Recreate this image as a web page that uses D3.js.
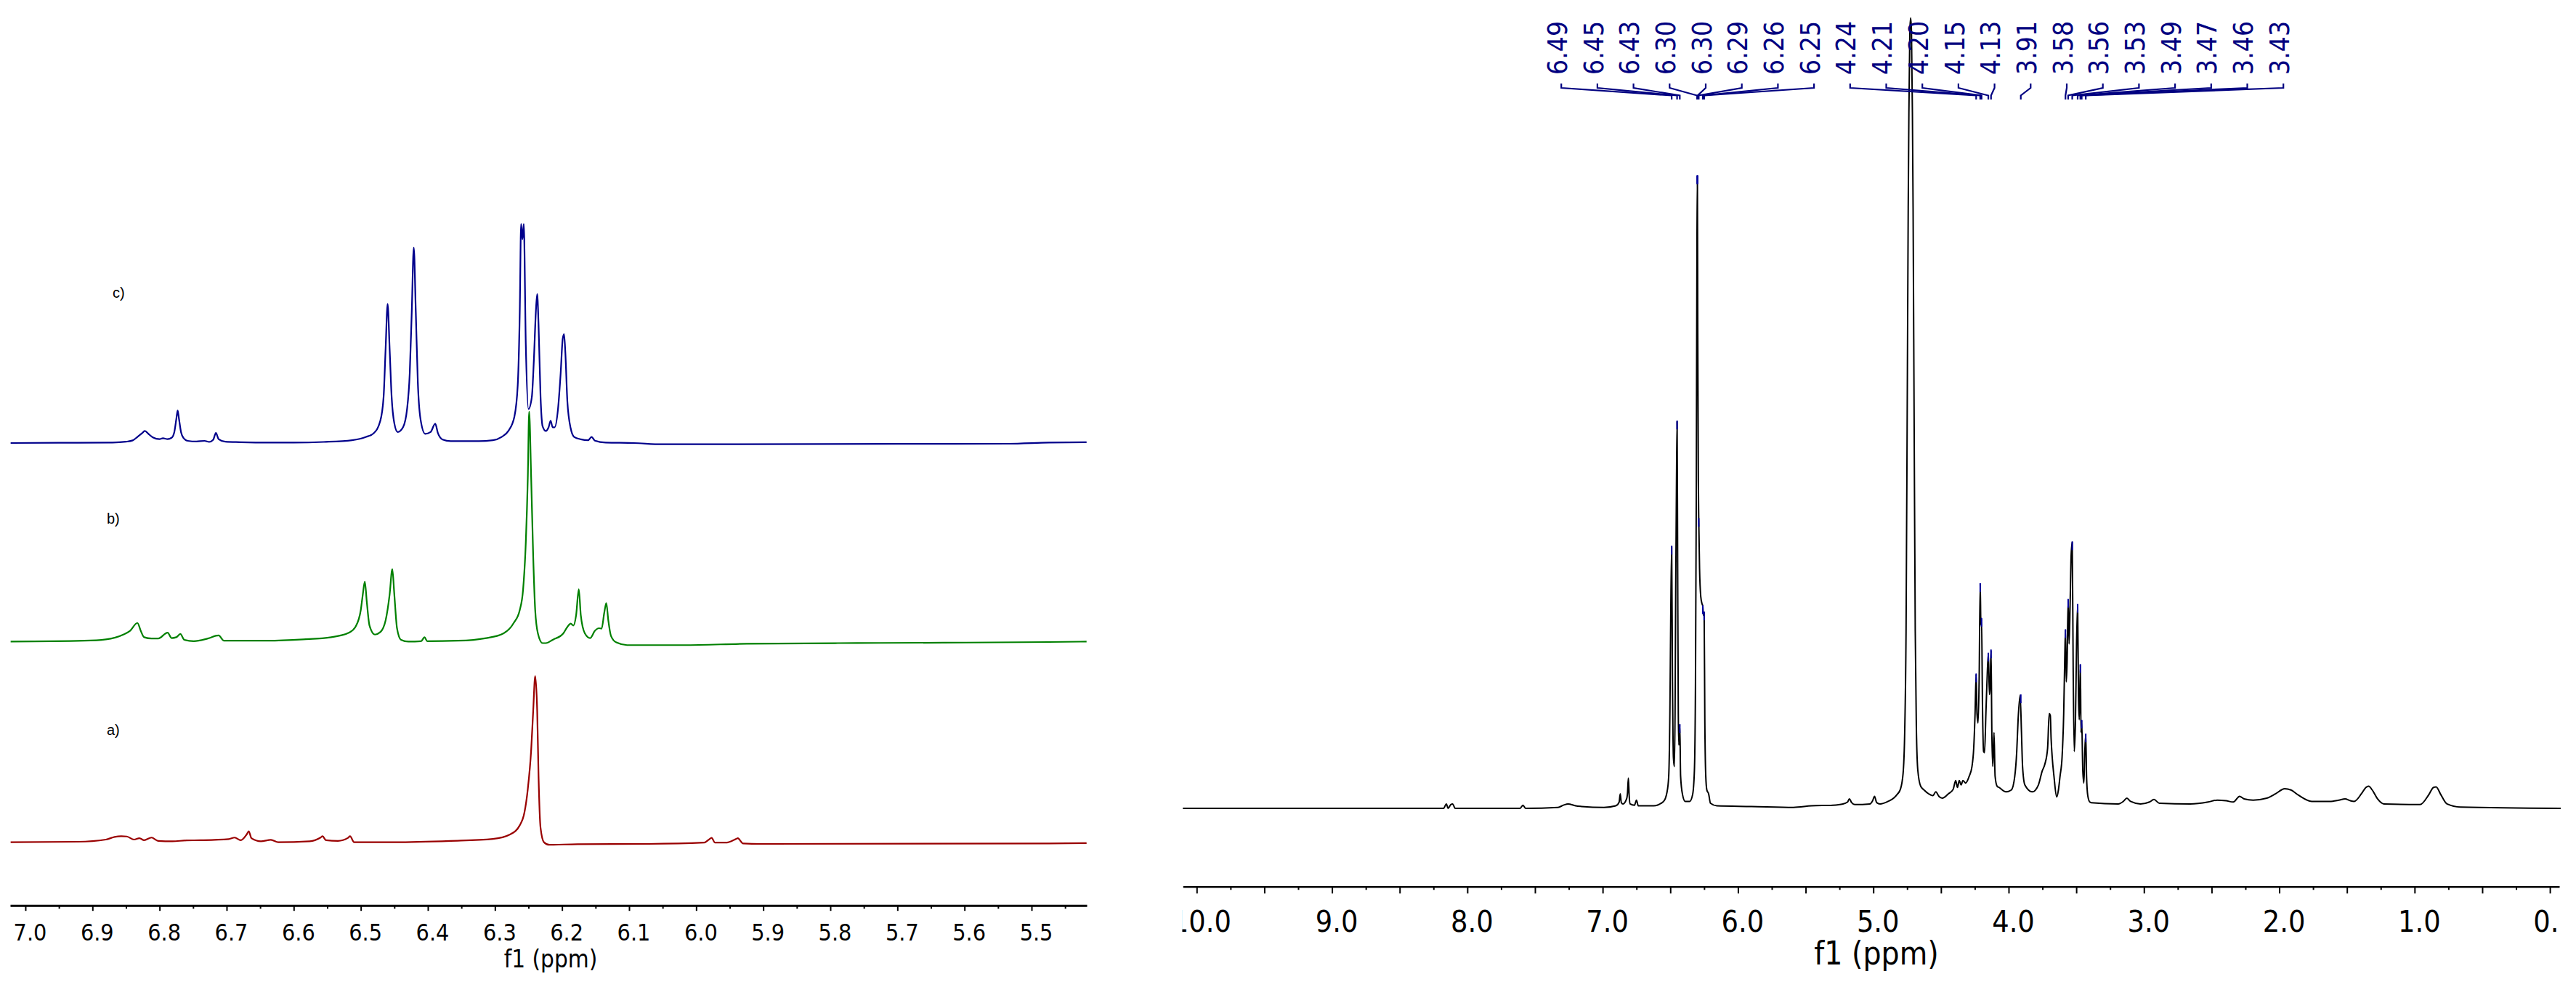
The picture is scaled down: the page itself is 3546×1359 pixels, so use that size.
<!DOCTYPE html>
<html><head><meta charset="utf-8">
<script src="https://cdn.jsdelivr.net/npm/d3@7"></script>
<style>html,body{margin:0;padding:0;background:#fff;} svg{display:block;}</style>
</head><body>
<svg id="chart" width="3546" height="1359"></svg>
<script>
// ---------------- DATA ----------------
const leftTickValues = [7.0, 6.9, 6.8, 6.7, 6.6, 6.5, 6.4, 6.3, 6.2, 6.1, 6.0, 5.9, 5.8, 5.7, 5.6, 5.5];
const leftTickLabels = ["7.0","6.9","6.8","6.7","6.6","6.5","6.4","6.3","6.2","6.1","6.0","5.9","5.8","5.7","5.6","5.5"];
const rightTickValues = [10, 9, 8, 7, 6, 5, 4, 3, 2, 1, 0];
const rightTickLabels = ["10.0","9.0","8.0","7.0","6.0","5.0","4.0","3.0","2.0","1.0","0.0"];
const axisTitle = "f1 (ppm)";
const traceNames = ["c)", "b)", "a)"];

// spectrum c) (blue) : [ppm, intensity]
const traceC = [[7.022,0],[6.950,0.1],[6.870,0.2],[6.850,0.6],[6.840,1.2],[6.833,2.8],[6.826,4.5],[6.822,5.5],[6.816,4.0],[6.810,2.6],[6.800,1.8],[6.795,2.2],[6.788,1.8],[6.782,2.4],[6.778,5],[6.775,11],[6.773,14.9],[6.771,11],[6.768,5],[6.764,2.2],[6.758,1.0],[6.745,0.7],[6.733,1.0],[6.726,0.5],[6.720,1.5],[6.716,4.6],[6.712,1.8],[6.702,0.6],[6.680,0.4],[6.640,0.2],[6.600,0.2],[6.555,0.5],[6.513,1.3],[6.492,2.8],[6.481,4.4],[6.471,10],[6.466,21],[6.463,43],[6.460,63.5],[6.457,43],[6.454,21],[6.450,9],[6.445,5.0],[6.437,7.2],[6.431,15.5],[6.427,32],[6.424,60],[6.421,89.2],[6.418,60],[6.415,28],[6.411,11],[6.404,4.2],[6.396,5],[6.389,8.8],[6.385,4.5],[6.378,1.6],[6.366,0.9],[6.324,0.9],[6.303,1.3],[6.290,2.8],[6.280,5.5],[6.271,12],[6.266,26.5],[6.263,60],[6.261,100],[6.259,93],[6.257,100],[6.254,45],[6.250,15.5],[6.245,21],[6.242,37.6],[6.239,60],[6.237,68],[6.235,54],[6.232,21],[6.229,7.7],[6.224,5.5],[6.220,7.2],[6.217,10.2],[6.214,7.2],[6.211,7.2],[6.206,15.5],[6.202,32],[6.199,47.5],[6.197,49.7],[6.195,41],[6.192,18.8],[6.187,6.6],[6.182,2.8],[6.172,1.7],[6.161,1.3],[6.156,2.8],[6.151,1.1],[6.135,0.2],[6.093,0],[6.051,-0.55],[5.988,-0.55],[5.700,-0.4],[5.536,-0.33],[5.474,0.2],[5.418,0.4]];

// spectrum b) (green)
const traceB = [[7.022,-0.2],[6.912,0.2],[6.880,0.8],[6.854,3.0],[6.844,4.7],[6.833,8.3],[6.828,4.7],[6.823,1.8],[6.812,1.2],[6.802,1.2],[6.788,3.9],[6.782,1.4],[6.775,1.8],[6.769,3.3],[6.763,0.6],[6.749,0],[6.728,1.2],[6.712,2.6],[6.704,0.2],[6.639,0.2],[6.586,0.8],[6.544,1.8],[6.518,3.8],[6.508,6.5],[6.500,14.2],[6.497,21.3],[6.494,27.2],[6.491,17.8],[6.487,7.1],[6.479,3.0],[6.471,4.1],[6.463,9.5],[6.457,21.3],[6.453,32.9],[6.450,21.3],[6.446,5.9],[6.440,0.6],[6.429,-0.2],[6.410,0],[6.405,1.8],[6.401,0],[6.355,0.2],[6.313,1.4],[6.287,3.6],[6.272,8.3],[6.263,14.2],[6.258,23.7],[6.254,45],[6.251,74.6],[6.249,104.7],[6.246,74.6],[6.243,39],[6.240,14.2],[6.236,3.6],[6.229,-0.9],[6.224,-0.9],[6.214,0.6],[6.198,3.6],[6.192,6.5],[6.187,8.0],[6.183,7.1],[6.179,11.8],[6.175,23.7],[6.172,11.8],[6.166,3.6],[6.158,1.4],[6.151,4.7],[6.145,5.9],[6.141,5.7],[6.137,13.0],[6.134,17.4],[6.131,9.5],[6.127,2.4],[6.119,-0.6],[6.103,-1.8],[6.019,-1.8],[5.925,-1.2],[5.789,-0.9],[5.631,-0.7],[5.474,-0.4],[5.418,-0.2]];

// spectrum a) (red)
const traceA = [[7.022,0],[6.922,0.2],[6.880,1.2],[6.867,2.4],[6.857,2.7],[6.849,2.6],[6.838,1.2],[6.830,1.8],[6.823,0.9],[6.812,2.1],[6.802,0.6],[6.781,0.4],[6.760,0.8],[6.739,0.9],[6.697,1.4],[6.688,2.1],[6.679,0.9],[6.670,3.6],[6.667,5.0],[6.663,1.8],[6.649,0.4],[6.634,1.1],[6.623,0],[6.576,0.4],[6.560,2.1],[6.557,2.7],[6.552,0.9],[6.534,0.6],[6.519,2.0],[6.516,2.7],[6.510,0],[6.450,0],[6.366,0.6],[6.303,1.5],[6.277,3.6],[6.263,7.7],[6.256,13.6],[6.251,24.3],[6.246,42],[6.243,59.8],[6.240,75.8],[6.237,59.8],[6.235,30.2],[6.232,6.5],[6.227,0],[6.219,-1.2],[6.177,-0.9],[6.072,-0.8],[5.988,-0.2],[5.981,1.2],[5.977,2.0],[5.972,-0.2],[5.956,-0.2],[5.941,1.4],[5.938,1.8],[5.930,-0.6],[5.904,-0.8],[5.474,-0.6],[5.418,-0.4]];

// full spectrum (black)
const traceFull = [[10.102,0],[9.500,0],[8.600,0],[8.175,0],[8.155,0.7],[8.142,0],[8.122,0.6],[8.109,0.7],[8.090,0],[7.610,0],[7.589,0.5],[7.570,0],[7.330,0.15],[7.290,0.5],[7.256,0.7],[7.200,0.4],[7.156,0.3],[6.990,0.15],[6.903,0.4],[6.878,1.0],[6.870,2.3],[6.862,0.9],[6.850,0.7],[6.823,1.5],[6.816,2.5],[6.810,4.8],[6.804,2],[6.797,0.7],[6.765,0.5],[6.750,1.3],[6.737,0.4],[6.623,0.4],[6.550,1.1],[6.525,2.5],[6.512,5],[6.503,15.4],[6.497,30],[6.490,41.4],[6.484,20],[6.477,8],[6.470,6.6],[6.465,15],[6.460,35],[6.455,50],[6.450,61.2],[6.446,40],[6.441,15],[6.437,10],[6.430,13.2],[6.424,5.1],[6.410,2.2],[6.390,1.1],[6.357,1.1],[6.335,2.2],[6.322,6],[6.314,20],[6.308,50],[6.303,90],[6.300,100],[6.297,75],[6.293,52],[6.290,45.8],[6.284,38],[6.275,33.5],[6.265,32.3],[6.260,32],[6.255,30.5],[6.250,31],[6.245,14],[6.238,5.1],[6.230,2.9],[6.217,2.3],[6.203,0.8],[6.157,0.4],[5.900,0.3],[5.590,0.15],[5.457,0.4],[5.300,0.5],[5.224,0.7],[5.190,1.0],[5.177,1.5],[5.160,0.9],[5.137,0.6],[5.024,0.7],[5.005,1.2],[4.991,1.9],[4.975,0.9],[4.950,0.7],[4.891,1.1],[4.850,1.6],[4.824,2.2],[4.800,3.0],[4.780,5.5],[4.768,12],[4.758,28],[4.750,60],[4.742,95],[4.737,110],[4.730,123],[4.724,125],[4.718,123],[4.711,110],[4.706,95],[4.698,60],[4.690,28],[4.682,13],[4.671,6],[4.650,3.5],[4.625,2.9],[4.591,2.3],[4.560,2.0],[4.538,2.6],[4.515,1.9],[4.491,1.6],[4.445,2.3],[4.410,3.0],[4.391,4.4],[4.378,3.3],[4.365,4.4],[4.351,3.7],[4.338,4.4],[4.318,4.0],[4.291,5.1],[4.271,6.6],[4.258,9.5],[4.248,15],[4.240,21.2],[4.234,15],[4.226,13.5],[4.218,20],[4.210,35.5],[4.205,29],[4.200,30],[4.193,16],[4.185,9],[4.178,8.8],[4.168,15],[4.160,20],[4.150,24.5],[4.142,18],[4.137,19],[4.130,25],[4.124,12],[4.117,6.6],[4.108,12],[4.100,5.1],[4.085,3.5],[4.070,3.3],[4.020,2.6],[3.980,2.9],[3.955,5],[3.940,9],[3.930,14],[3.915,17.9],[3.905,12],[3.897,6.6],[3.880,3.7],[3.825,2.6],[3.780,3.7],[3.752,5.9],[3.732,7.0],[3.712,9.5],[3.700,15.0],[3.692,14.7],[3.686,11],[3.678,8.1],[3.665,5.1],[3.645,1.8],[3.632,2.9],[3.620,5.1],[3.605,8.1],[3.593,15],[3.585,24],[3.580,28.2],[3.574,20],[3.568,23],[3.560,33],[3.553,26],[3.545,33],[3.538,40],[3.530,42.1],[3.523,22],[3.515,9],[3.506,14],[3.498,26],[3.490,32.2],[3.484,18],[3.478,14],[3.470,22.7],[3.465,12],[3.460,13.9],[3.452,6],[3.444,4],[3.437,9],[3.430,11.7],[3.424,5],[3.415,2],[3.400,1.0],[3.390,0.9],[3.190,0.7],[3.152,1.1],[3.126,1.6],[3.099,1.1],[3.026,0.7],[2.959,1.0],[2.926,1.4],[2.886,0.8],[2.659,0.7],[2.526,1.0],[2.459,1.3],[2.393,1.2],[2.340,1.0],[2.293,1.9],[2.260,1.5],[2.193,1.3],[2.093,1.6],[2.027,2.3],[1.960,3.1],[1.913,2.9],[1.860,2.1],[1.760,1.1],[1.627,1.1],[1.560,1.3],[1.514,1.5],[1.474,1.2],[1.447,1.1],[1.393,2.3],[1.360,3.3],[1.340,3.5],[1.313,2.9],[1.274,1.5],[1.227,0.7],[0.960,0.6],[0.894,2.2],[0.861,3.3],[0.841,3.4],[0.807,2.2],[0.761,0.7],[0.661,0.2],[-0.080,0]];

// picked peaks (labels on top of the full spectrum)
const peakLabels = ["6.49","6.45","6.43","6.30","6.30","6.29","6.26","6.25","4.24","4.21","4.20","4.15","4.13","3.91","3.58","3.56","3.53","3.49","3.47","3.46","3.43"];
const peakPpm = [6.49,6.45,6.43,6.302,6.298,6.29,6.26,6.25,4.24,4.21,4.20,4.15,4.13,3.91,3.58,3.56,3.53,3.49,3.47,3.46,3.43];
const peakHeights = [41.4,61.2,13.2,100,100,45.8,32,31,21.2,35.5,30,24.5,25,17.9,28.2,33,42.1,32.2,22.7,13.9,11.7];

// ---------------- DRAW ----------------
const W = 3546, H = 1359;
const svg = d3.select("#chart");
svg.append("rect").attr("width", W).attr("height", H).attr("fill", "#ffffff");
const FONT = "'DejaVu Sans Condensed','DejaVu Sans',Verdana,sans-serif";
const NAVY = "#000080";

// ----- left panel -----
const xL = d3.scaleLinear().domain([7.0227, 5.4177]).range([14, 1496]);
const yL = d3.scaleLinear().domain([0, 100]).range([0, -301.7]);
const leftBase = [610, 882.8, 1159.6];
const leftColors = ["#00008b", "#008000", "#990000"];
const leftTraces = [traceC, traceB, traceA];
const lineL = d3.line().x(d => xL(d[0])).y(d => yL(d[1])).curve(d3.curveMonotoneX);

leftTraces.forEach((tr, i) => {
  svg.append("g").attr("transform", `translate(0,${leftBase[i]})`)
    .append("path").datum(tr).attr("d", lineL)
    .attr("fill", "none").attr("stroke", leftColors[i]).attr("stroke-width", 2.2)
    .attr("stroke-linejoin", "round");
});
const namePos = [[155, 410], [147, 721], [147, 1012]];
traceNames.forEach((t, i) => {
  svg.append("text").attr("x", namePos[i][0]).attr("y", namePos[i][1])
    .attr("font-family", "'Liberation Sans',Arial,sans-serif").attr("font-size", 20)
    .attr("fill", "#000").text(t);
});

const leftMinor = d3.range(16).map(i => 6.95 - 0.1 * i);
const gLmin = svg.append("g").attr("transform", "translate(0,1246.7)")
  .call(d3.axisBottom(xL).tickValues(leftMinor).tickSize(4.5).tickSizeOuter(0).tickFormat(""));
gLmin.select(".domain").remove();
gLmin.selectAll(".tick line").attr("stroke", "#000").attr("stroke-width", 2);
const gLmaj = svg.append("g").attr("transform", "translate(0,1246.7)")
  .call(d3.axisBottom(xL).tickValues(leftTickValues).tickSize(7.5).tickSizeOuter(0)
    .tickFormat((d, i) => leftTickLabels[i]));
gLmaj.select(".domain").attr("stroke", "#000").attr("stroke-width", 3);
gLmaj.selectAll(".tick line").attr("stroke", "#000").attr("stroke-width", 2);
gLmaj.selectAll(".tick text").attr("y", 48.3).attr("dy", 0).attr("dx", 6)
  .attr("font-family", FONT).attr("font-size", 32).attr("fill", "#000");
svg.append("text").attr("x", 758).attr("y", 1332).attr("text-anchor", "middle")
  .attr("font-family", FONT).attr("font-size", 33).attr("fill", "#000").text(axisTitle);

// ----- right panel -----
const xR = d3.scaleLinear().domain([10.102, -0.08]).range([1628.3, 3525]);
const yR = d3.scaleLinear().domain([0, 100]).range([1113, 242.4]);
const lineR = d3.line().x(d => xR(d[0])).y(d => yR(d[1])).curve(d3.curveMonotoneX);
svg.append("path").datum(traceFull).attr("d", lineR)
  .attr("fill", "none").attr("stroke", "#000").attr("stroke-width", 2)
  .attr("stroke-linejoin", "round");

// peak markers
peakPpm.forEach((p, i) => {
  svg.append("line").attr("x1", xR(p)).attr("x2", xR(p))
    .attr("y1", yR(peakHeights[i]) - 1).attr("y2", yR(peakHeights[i]) + 11)
    .attr("stroke", "#0000a0").attr("stroke-width", 2);
});

// peak labels & brackets
const labelX = d3.scalePoint().domain(d3.range(peakLabels.length)).range([2143.5, 3137.5]);
peakLabels.forEach((lab, i) => {
  const lx = labelX(i);
  svg.append("text").attr("transform", `translate(${lx},103) rotate(-90)`)
    .attr("dy", "0.36em").attr("text-anchor", "start")
    .attr("font-family", FONT).attr("font-size", 37).attr("fill", NAVY).text(lab);
  const bx = lx + 5.7, px = xR(peakPpm[i]);
  svg.append("path").attr("d", `M${bx},115 V121 L${px},131.5 V137`)
    .attr("fill", "none").attr("stroke", NAVY).attr("stroke-width", 2.2);
});

// right axis
const clip = svg.append("defs").append("clipPath").attr("id", "clipR");
clip.append("rect").attr("x", 1627.5).attr("y", 1150).attr("width", 3523.5 - 1627.5).attr("height", 209);
const axR = svg.append("g").attr("clip-path", "url(#clipR)");
const quarter = d3.range(10).map(i => 9.75 - i);
const half = d3.range(10).map(i => 9.5 - i);
const gRq = axR.append("g").attr("transform", "translate(0,1220.7)")
  .call(d3.axisBottom(xR).tickValues(quarter.concat(quarter.map(v => v - 0.5))).tickSize(4.5).tickSizeOuter(0).tickFormat(""));
gRq.select(".domain").remove();
gRq.selectAll(".tick line").attr("stroke", "#000").attr("stroke-width", 2);
const gRh = axR.append("g").attr("transform", "translate(0,1220.7)")
  .call(d3.axisBottom(xR).tickValues(half).tickSize(9.5).tickSizeOuter(0).tickFormat(""));
gRh.select(".domain").remove();
gRh.selectAll(".tick line").attr("stroke", "#000").attr("stroke-width", 2);
const gRmaj = axR.append("g").attr("transform", "translate(0,1220.7)")
  .call(d3.axisBottom(xR).tickValues(rightTickValues).tickSize(9.5).tickSizeOuter(0)
    .tickFormat((d, i) => rightTickLabels[i]));
gRmaj.select(".domain").attr("stroke", "#000").attr("stroke-width", 2.5);
gRmaj.selectAll(".tick line").attr("stroke", "#000").attr("stroke-width", 2);
gRmaj.selectAll(".tick text").attr("y", 62.3).attr("dy", 0).attr("dx", 6)
  .attr("font-family", FONT).attr("font-size", 41).attr("fill", "#000");
svg.append("text").attr("x", 2583).attr("y", 1328).attr("text-anchor", "middle")
  .attr("font-family", FONT).attr("font-size", 44).attr("fill", "#000").text(axisTitle);
</script>
</body></html>
